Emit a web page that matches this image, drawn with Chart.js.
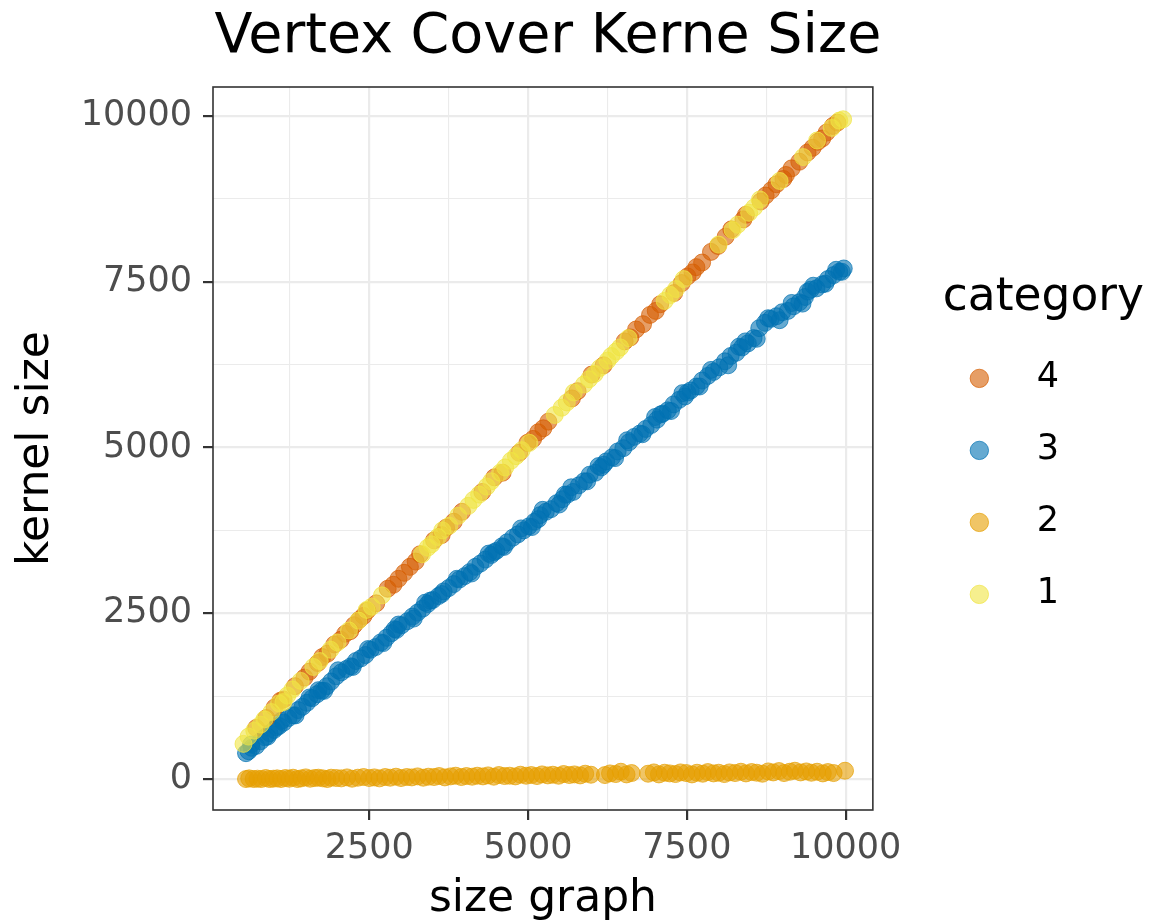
<!DOCTYPE html>
<html>
<head>
<meta charset="utf-8">
<script src="https://cdn.jsdelivr.net/npm/chart.js@4/dist/chart.umd.min.js"></script>
<style>
  body { margin: 0; background: #fff; }
</style>
</head>
<body>
<canvas id="kernelChart" width="1150" height="922"></canvas>
<script>
// category 4 and 1 sit on the diagonal, 3 a bit below, 2 near zero
const cat4X = [720, 880, 1010, 1100, 1150, 1330, 1480, 1560, 1690, 1760, 1840, 1950, 2050, 2120, 2200, 2260, 2340, 2410, 2470, 2610, 2790, 2880, 2960, 3050, 3140, 3230, 3300, 3520, 3640, 3710, 3830, 3960, 4280, 4470, 4600, 4860, 4990, 5080, 5160, 5240, 5320, 5690, 5780, 6000, 6190, 6520, 6610, 6700, 6810, 6920, 7010, 7080, 7300, 7420, 7510, 7590, 7650, 7740, 7880, 7990, 8110, 8200, 8390, 8430, 8660, 8740, 8830, 8910, 9020, 9060, 9150, 9270, 9400, 9480, 9560, 9630, 9700, 9800, 9870];
const cat4Y = [770, 920, 1080, 1180, 1200, 1400, 1530, 1620, 1750, 1840, 1890, 2030, 2100, 2190, 2230, 2320, 2400, 2460, 2540, 2650, 2870, 2930, 3020, 3110, 3200, 3280, 3390, 3600, 3680, 3790, 3880, 4030, 4330, 4550, 4620, 4920, 5070, 5130, 5230, 5290, 5390, 5740, 5850, 6100, 6240, 6600, 6660, 6780, 6860, 7000, 7060, 7160, 7330, 7480, 7580, 7640, 7720, 7790, 7950, 8040, 8180, 8290, 8440, 8510, 8710, 8800, 8880, 8970, 9050, 9110, 9210, 9310, 9450, 9520, 9610, 9660, 9750, 9850, 9900];

const cat3X = [560, 600, 640, 650, 720, 790, 860, 900, 930, 1000, 1040, 1080, 1120, 1150, 1230, 1300, 1340, 1380, 1450, 1520, 1560, 1600, 1680, 1700, 1750, 1790, 1830, 1900, 1980, 2010, 2060, 2140, 2210, 2240, 2290, 2370, 2440, 2480, 2520, 2600, 2680, 2720, 2770, 2850, 2900, 2930, 2960, 3010, 3100, 3180, 3200, 3260, 3340, 3380, 3420, 3460, 3500, 3590, 3640, 3670, 3750, 3830, 3880, 3920, 4000, 4080, 4110, 4170, 4250, 4330, 4380, 4420, 4460, 4500, 4590, 4620, 4670, 4760, 4840, 4890, 4930, 5010, 5060, 5100, 5160, 5190, 5230, 5280, 5360, 5450, 5490, 5540, 5580, 5620, 5680, 5710, 5800, 5880, 5930, 5970, 6060, 6110, 6150, 6190, 6230, 6320, 6370, 6410, 6500, 6560, 6590, 6670, 6760, 6800, 6850, 6940, 7000, 7030, 7090, 7120, 7200, 7250, 7290, 7380, 7430, 7470, 7510, 7560, 7650, 7700, 7740, 7830, 7880, 7920, 8010, 8100, 8150, 8190, 8280, 8320, 8370, 8420, 8460, 8550, 8600, 8640, 8730, 8780, 8820, 8910, 8960, 9000, 9090, 9150, 9180, 9270, 9320, 9360, 9400, 9450, 9490, 9540, 9630, 9680, 9720, 9810, 9850, 9900, 9940, 9970];
const cat3Y = [390, 420, 520, 470, 500, 570, 630, 640, 690, 740, 780, 800, 880, 850, 920, 960, 960, 1040, 1090, 1150, 1230, 1220, 1280, 1340, 1330, 1330, 1400, 1470, 1550, 1640, 1610, 1660, 1700, 1690, 1780, 1820, 1870, 1960, 1950, 1990, 2060, 2050, 2130, 2200, 2260, 2250, 2330, 2320, 2380, 2450, 2420, 2510, 2570, 2660, 2640, 2690, 2700, 2760, 2790, 2830, 2880, 2940, 3020, 3010, 3060, 3120, 3100, 3200, 3250, 3310, 3400, 3380, 3420, 3440, 3510, 3500, 3570, 3640, 3690, 3780, 3750, 3810, 3800, 3880, 3920, 3980, 4060, 4030, 4070, 4160, 4140, 4220, 4290, 4290, 4400, 4330, 4430, 4490, 4490, 4590, 4620, 4720, 4700, 4740, 4790, 4850, 4840, 4940, 4990, 5110, 5080, 5160, 5210, 5200, 5280, 5340, 5460, 5420, 5500, 5510, 5560, 5550, 5650, 5720, 5820, 5770, 5830, 5860, 5920, 5920, 6010, 6080, 6170, 6140, 6210, 6300, 6240, 6380, 6430, 6520, 6510, 6600, 6570, 6650, 6640, 6800, 6880, 6950, 6940, 6980, 6920, 7040, 7060, 7180, 7130, 7190, 7170, 7270, 7350, 7380, 7440, 7400, 7460, 7470, 7540, 7600, 7680, 7650, 7650, 7700];

const cat2X = [560, 610, 680, 740, 800, 870, 930, 990, 1050, 1110, 1180, 1240, 1300, 1370, 1430, 1500, 1570, 1640, 1700, 1770, 1840, 1900, 1980, 2060, 2150, 2230, 2320, 2410, 2500, 2580, 2660, 2750, 2830, 2920, 3000, 3090, 3170, 3260, 3350, 3430, 3520, 3600, 3690, 3780, 3860, 3950, 4030, 4120, 4200, 4290, 4370, 4460, 4540, 4630, 4710, 4800, 4880, 4970, 5050, 5140, 5220, 5310, 5390, 5480, 5560, 5650, 5730, 5820, 5900, 5990, 6210, 6290, 6380, 6460, 6550, 6630, 6890, 6980, 7060, 7150, 7230, 7320, 7400, 7490, 7580, 7660, 7750, 7830, 7920, 8000, 8090, 8170, 8260, 8350, 8430, 8520, 8600, 8690, 8780, 8860, 8950, 9030, 9120, 9200, 9290, 9380, 9460, 9550, 9640, 9720, 9810, 9990];
const cat2Y = [0, 10, 0, 5, 0, 15, 0, 5, 10, 0, 15, 5, 20, 0, 10, 25, 5, 15, 20, 10, 0, 20, 15, 10, 25, 5, 20, 30, 15, 25, 10, 30, 20, 35, 15, 30, 25, 40, 20, 35, 30, 45, 25, 40, 50, 30, 45, 35, 50, 40, 55, 35, 60, 45, 50, 40, 65, 50, 60, 45, 70, 55, 65, 50, 75, 60, 70, 55, 80, 65, 60, 85, 75, 110, 70, 90, 80, 100, 70, 95, 85, 75, 100, 90, 70, 95, 80, 105, 85, 95, 75, 100, 90, 110, 85, 105, 95, 80, 115, 100, 120, 90, 110, 125, 100, 115, 95, 110, 85, 105, 90, 125];

const cat1X = [520, 600, 690, 790, 850, 960, 1080, 1150, 1210, 1290, 1420, 1620, 1720, 1890, 2000, 2180, 2330, 2460, 2540, 2700, 3330, 3420, 3480, 3580, 3650, 3760, 3900, 4060, 4140, 4230, 4350, 4420, 4560, 4640, 4730, 4810, 4900, 5020, 5420, 5530, 5610, 5720, 5880, 5960, 6050, 6130, 6250, 6310, 6390, 6450, 6580, 7150, 7240, 7330, 7450, 8000, 8220, 8300, 8480, 8560, 8650, 8960, 9330, 9550, 9780, 9900, 9960];
const cat1Y = [530, 640, 730, 820, 900, 1010, 1140, 1160, 1260, 1350, 1480, 1690, 1780, 1950, 2060, 2240, 2390, 2550, 2600, 2770, 3390, 3490, 3540, 3650, 3750, 3820, 3970, 4120, 4210, 4290, 4410, 4490, 4620, 4700, 4800, 4870, 4960, 5070, 5490, 5600, 5680, 5830, 5950, 6030, 6110, 6200, 6310, 6380, 6450, 6510, 6650, 7210, 7300, 7390, 7540, 8060, 8280, 8360, 8540, 8620, 8740, 9020, 9380, 9630, 9820, 9930, 9950];

const categories = ['4', '3', '2', '1'];
const colors = ['213, 94, 0', '0, 114, 178', '230, 159, 0', '240, 228, 66'];
const drawOrder = [1, 2, 3, 0]; // lower = painted on top, so yellow ends up over orange

// ggplot style breaks: majors get labels, minors only a thin grid line
const xMajor = [2500, 5000, 7500, 10000];
const xGrid = [1250, 2500, 3750, 5000, 6250, 7500, 8750, 10000];
const yMajor = [0, 2500, 5000, 7500, 10000];
const yGrid = [0, 1250, 2500, 3750, 5000, 6250, 7500, 8750, 10000];

const FONT = '"DejaVu Sans", sans-serif';

function toPoints(xs, ys) {
  return xs.map((x, i) => ({ x: x, y: ys[i] }));
}

const seriesX = [cat4X, cat3X, cat2X, cat1X];
const seriesY = [cat4Y, cat3Y, cat2Y, cat1Y];

const datasets = categories.map((c, i) => ({
  label: c,
  order: drawOrder[i],
  data: toPoints(seriesX[i], seriesY[i]),
  backgroundColor: 'rgba(' + colors[i] + ', 0.6)',
  borderColor: 'rgba(' + colors[i] + ', 0.7)',
  borderWidth: 1,
  pointRadius: 8.5,
  pointHoverRadius: 8.5,
  pointStyle: 'circle'
}));

function gridOpts(major) {
  return {
    color: '#EBEBEB',
    lineWidth: (c) => (c.tick && major.includes(c.tick.value)) ? 2.2 : 1.1,
    tickColor: (c) => (c.tick && major.includes(c.tick.value)) ? '#333333' : 'rgba(0,0,0,0)',
    tickLength: 10,
    tickWidth: 2.2
  };
}

// plot title over the panel, legend title, and the full panel border
const panelDecor = {
  id: 'panelDecor',
  afterDraw(chart) {
    const { ctx, chartArea: a } = chart;
    ctx.save();
    ctx.strokeStyle = '#333333';
    ctx.lineWidth = 1.6;
    ctx.strokeRect(a.left, a.top, a.right - a.left, a.bottom - a.top);
    ctx.fillStyle = '#000';
    ctx.textBaseline = 'alphabetic';
    ctx.font = '55.5px ' + FONT;
    ctx.textAlign = 'center';
    ctx.fillText('Vertex Cover Kerne Size', (a.left + a.right) / 2 + 5, 52);
    const lg = chart.legend;
    ctx.font = '45.5px ' + FONT;
    ctx.textAlign = 'left';
    ctx.fillText('category', lg.left + 7, 310);
    ctx.restore();
  }
};

new Chart(document.getElementById('kernelChart'), {
  type: 'scatter',
  data: { datasets: datasets },
  options: {
    responsive: false,
    animation: false,
    layout: { padding: { top: 87, left: 10, right: 81, bottom: 0 } },
    scales: {
      x: {
        type: 'linear',
        min: 40,
        max: 10428,
        afterBuildTicks: (s) => { s.ticks = xGrid.map(v => ({ value: v })); },
        ticks: {
          callback: (v) => xMajor.includes(v) ? String(v) : '',
          color: '#4D4D4D',
          font: { size: 35, family: FONT },
          padding: 8,
          maxRotation: 0,
          autoSkip: false
        },
        grid: gridOpts(xMajor),
        border: { display: false },
        title: { display: true, text: 'size graph', color: '#000', font: { size: 44, family: FONT, lineHeight: 1.0 }, padding: 0 }
      },
      y: {
        type: 'linear',
        min: -467,
        max: 10437,
        afterBuildTicks: (s) => { s.ticks = yGrid.map(v => ({ value: v })); },
        afterFit: (s) => { s.width = 203; },
        ticks: {
          callback: (v) => yMajor.includes(v) ? String(v) : '',
          color: '#4D4D4D',
          font: { size: 35, family: FONT },
          padding: 11,
          autoSkip: false
        },
        grid: gridOpts(yMajor),
        border: { display: false },
        title: { display: true, text: 'kernel size', color: '#000', font: { size: 44, family: FONT }, padding: 0 }
      },
      // empty spacer between the panel and the legend
      gap: {
        type: 'linear',
        position: 'right',
        display: true,
        grid: { display: false, drawTicks: false },
        ticks: { display: false },
        border: { display: false },
        afterFit: (s) => { s.width = 63; }
      }
    },
    plugins: {
      tooltip: { enabled: false },
      legend: {
        position: 'right',
        fullSize: false,
        align: 'center',
        // blank title only reserves the room; the text is painted by panelDecor
        title: {
          display: true,
          text: ' ',
          position: 'start',
          font: { size: 44, family: FONT },
          padding: 11.5
        },
        labels: {
          usePointStyle: true,
          boxWidth: 13,
          boxHeight: 13,
          padding: 37,
          color: '#000',
          font: { size: 35, family: FONT },
          sort: (a, b) => a.datasetIndex - b.datasetIndex,
          generateLabels: (chart) => Chart.defaults.plugins.legend.labels.generateLabels(chart)
            .map(l => Object.assign(l, { text: '   ' + l.text }))
        }
      }
    }
  },
  plugins: [panelDecor]
});
</script>
</body>
</html>
